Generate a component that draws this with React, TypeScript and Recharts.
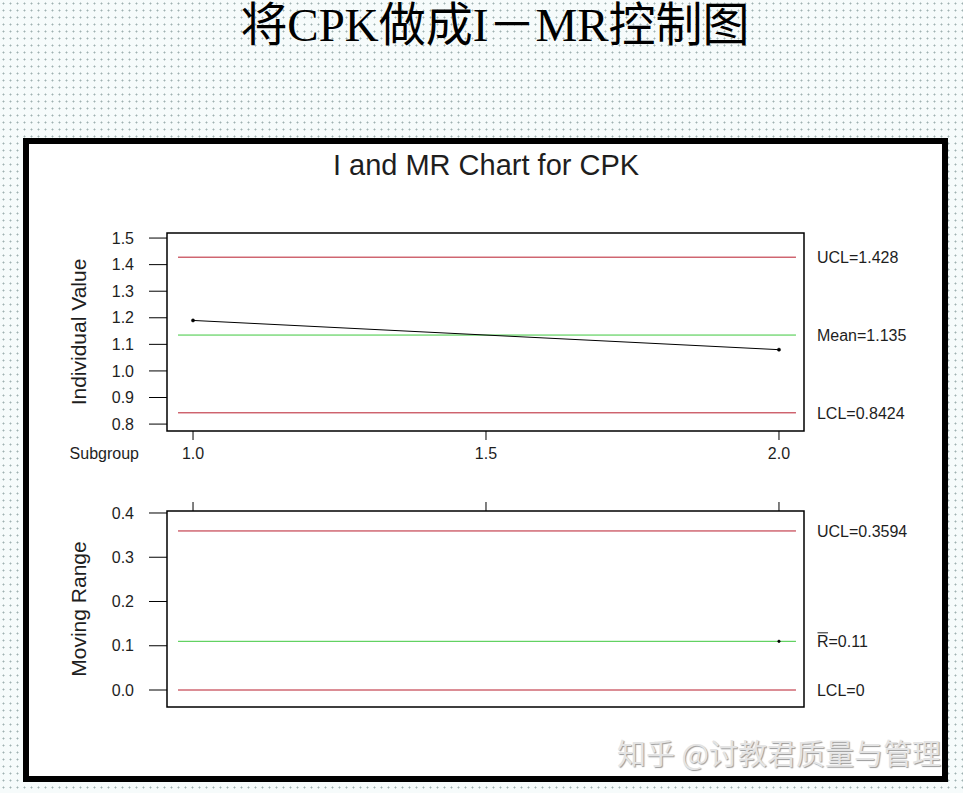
import {
  ComposedChart,
  Line,
  ReferenceArea,
  ReferenceLine,
  XAxis,
  YAxis,
} from "recharts";

// subgroup numbers and the two measured CPK values
const subgroups = [1, 2];
const individualValues = [1.19, 1.08];
const movingRanges = [null, 0.11];

// control limits
const iUcl = 1.428;
const iMean = 1.135;
const iLcl = 0.8424;
const mrUcl = 0.3594;
const mrBar = 0.11;
const mrLcl = 0;

const xTicks = [1, 1.5, 2];
const iTicks = [0.8, 0.9, 1.0, 1.1, 1.2, 1.3, 1.4, 1.5];
const mrTicks = [0, 0.1, 0.2, 0.3, 0.4];

const xDomain: [number, number] = [0.9556, 2.0427];
const limitSpan: [number, number] = [0.9744, 2.029];
const iDomain: [number, number] = [0.774, 1.519];
const mrDomain: [number, number] = [-0.0384, 0.4045];

const individualData = subgroups.map((s, i) => ({ subgroup: s, value: individualValues[i] }));
const mrData = subgroups.map((s, i) => ({ subgroup: s, mr: movingRanges[i] }));

const RED = "#b81c2c";
const GREEN = "#3fc83f";
const TEXT = "#1e1e1e";
const FONT = "'Liberation Sans', Arial, sans-serif";

const labelStyle = { fill: TEXT, fontSize: 16 };

function limitLine(y: number, color: string, text: string) {
  return (
    <ReferenceLine
      segment={[
        { x: limitSpan[0], y },
        { x: limitSpan[1], y },
      ]}
      stroke={color}
      strokeWidth={1}
      label={{ value: text, position: "right", offset: 21, ...labelStyle }}
    />
  );
}

// "R-bar" label: R with a bar over it
function RBarLabel(props: any) {
  const vb = props.viewBox || {};
  const x = vb.x + vb.width + 21;
  const y = vb.y;
  return (
    <g>
      <line x1={x + 0.5} x2={x + 11} y1={y - 8.5} y2={y - 8.5} stroke={TEXT} strokeWidth={1} />
      <text x={x} y={y} dy="0.355em" fill={TEXT} fontSize={16}>
        R=0.11
      </text>
    </g>
  );
}

function IndividualChart() {
  return (
    <ComposedChart
      width={963}
      height={480}
      data={individualData}
      margin={{ top: 233, right: 159, bottom: 5, left: 0 }}
    >
      <XAxis
        dataKey="subgroup"
        type="number"
        domain={xDomain}
        ticks={xTicks}
        allowDataOverflow
        axisLine={false}
        tickLine={{ stroke: "#000" }}
        tickSize={9}
        tickMargin={8}
        height={44}
        tick={labelStyle}
        tickFormatter={(v: number) => v.toFixed(1)}
        label={{ value: "Subgroup", position: "left", offset: 28, ...labelStyle }}
      />
      <YAxis
        type="number"
        domain={iDomain}
        ticks={iTicks}
        allowDataOverflow
        width={167}
        axisLine={false}
        tickLine={{ stroke: "#000" }}
        tickSize={18}
        tickMargin={15}
        tick={labelStyle}
        tickFormatter={(v: number) => v.toFixed(1)}
        label={{
          value: "Individual Value",
          angle: -90,
          position: "insideLeft",
          offset: 79,
          style: { textAnchor: "middle" },
          fill: TEXT,
          fontSize: 21,
        }}
      />
      <ReferenceArea
        x1={xDomain[0]}
        x2={xDomain[1]}
        y1={iDomain[0]}
        y2={iDomain[1]}
        fill="none"
        fillOpacity={0}
        stroke="#000"
        strokeWidth={1.5}
      />
      {limitLine(iUcl, RED, "UCL=1.428")}
      {limitLine(iMean, GREEN, "Mean=1.135")}
      {limitLine(iLcl, RED, "LCL=0.8424")}
      <Line
        dataKey="value"
        stroke="#000"
        strokeWidth={1}
        dot={{ r: 1.6, fill: "#000", stroke: "#000", strokeWidth: 0.5 }}
        isAnimationActive={false}
      />
    </ComposedChart>
  );
}

function MovingRangeChart() {
  return (
    <ComposedChart
      width={963}
      height={300}
      data={mrData}
      margin={{ top: 31, right: 159, bottom: 53, left: 0 }}
    >
      <XAxis
        dataKey="subgroup"
        type="number"
        orientation="top"
        domain={xDomain}
        ticks={xTicks}
        allowDataOverflow
        axisLine={false}
        tickLine={{ stroke: "#000" }}
        tickSize={9}
        height={20}
        tickFormatter={() => ""}
      />
      <YAxis
        type="number"
        domain={mrDomain}
        ticks={mrTicks}
        allowDataOverflow
        width={167}
        axisLine={false}
        tickLine={{ stroke: "#000" }}
        tickSize={18}
        tickMargin={15}
        tick={labelStyle}
        tickFormatter={(v: number) => v.toFixed(1)}
        label={{
          value: "Moving Range",
          angle: -90,
          position: "insideLeft",
          offset: 79,
          style: { textAnchor: "middle" },
          fill: TEXT,
          fontSize: 21,
        }}
      />
      <ReferenceArea
        x1={xDomain[0]}
        x2={xDomain[1]}
        y1={mrDomain[0]}
        y2={mrDomain[1]}
        fill="none"
        fillOpacity={0}
        stroke="#000"
        strokeWidth={1.5}
      />
      {limitLine(mrUcl, RED, "UCL=0.3594")}
      <ReferenceLine
        segment={[
          { x: limitSpan[0], y: mrBar },
          { x: limitSpan[1], y: mrBar },
        ]}
        stroke={GREEN}
        strokeWidth={1}
        label={<RBarLabel />}
      />
      {limitLine(mrLcl, RED, "LCL=0")}
      <Line
        dataKey="mr"
        stroke="#000"
        strokeWidth={1}
        dot={{ r: 1.3, fill: "#000", stroke: "#000", strokeWidth: 0.5 }}
        isAnimationActive={false}
      />
    </ComposedChart>
  );
}

export default function App() {
  return (
    <div
      style={{
        position: "absolute",
        left: 0,
        top: 0,
        width: 963,
        height: 793,
        overflow: "hidden",
        backgroundColor: "#f6fbfb",
        backgroundImage: "radial-gradient(circle, #9fb1b1 0.8px, transparent 1.2px)",
        backgroundSize: "7px 7px",
        fontFamily: FONT,
      }}
    >
      <div
        style={{
          position: "absolute",
          left: 0,
          top: 2,
          width: 990,
          textAlign: "center",
          fontFamily: "'Liberation Serif', 'Noto Sans CJK SC', serif",
          fontSize: 47,
          lineHeight: "46px",
          color: "#000",
        }}
      >
        将CPK做成I－MR控制图
      </div>
      <div
        style={{
          position: "absolute",
          left: 23,
          top: 138,
          width: 925,
          height: 644,
          boxSizing: "border-box",
          border: "6px solid #000",
          background: "#fff",
        }}
      />
      <div
        style={{
          position: "absolute",
          left: 0,
          top: 150.5,
          width: 972,
          textAlign: "center",
          fontSize: 29,
          lineHeight: "29px",
          color: TEXT,
        }}
      >
        I and MR Chart for CPK
      </div>
      <div style={{ position: "absolute", left: 0, top: 0 }}>
        <IndividualChart />
      </div>
      <div style={{ position: "absolute", left: 0, top: 460 }}>
        <MovingRangeChart />
      </div>
      <div
        style={{
          position: "absolute",
          left: 617,
          top: 736,
          fontFamily: "'Noto Sans CJK SC', sans-serif",
          fontSize: 29,
          lineHeight: "32px",
          color: "#e4e4e4",
          textShadow: "1px 1px 1px #9a9a9a",
          whiteSpace: "nowrap",
        }}
      >
        知乎 @讨教君质量与管理
      </div>
    </div>
  );
}
